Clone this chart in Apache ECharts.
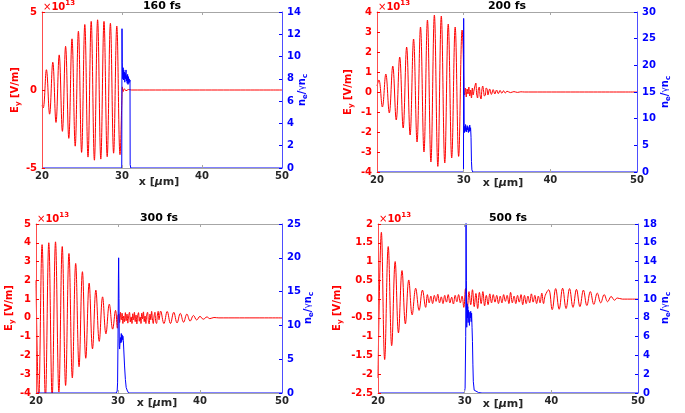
<!DOCTYPE html>
<html><head><meta charset="utf-8">
<script src="https://cdn.jsdelivr.net/npm/echarts@6/dist/echarts.min.js"></script>
<style>html,body{margin:0;padding:0;background:#fff}#c{width:685px;height:413px}</style>
</head><body><div id="c"></div><script>
// ---------- DATA ----------
const titles = ['160 fs', '200 fs', '300 fs', '500 fs'];
const xTicks = [20, 30, 40, 50];
const eyTicks160 = [-5, 0, 5];
const neTicks160 = [0, 2, 4, 6, 8, 10, 12, 14];
const eyTicks200 = [-4, -3, -2, -1, 0, 1, 2, 3, 4];
const neTicks200 = [0, 5, 10, 15, 20, 25, 30];
const eyTicks300 = [-4, -3, -2, -1, 0, 1, 2, 3, 4, 5];
const neTicks300 = [0, 5, 10, 15, 20, 25];
const eyTicks500 = [-2.5, -2, -1.5, -1, -0.5, 0, 0.5, 1, 1.5, 2];
const neTicks500 = [0, 2, 4, 6, 8, 10, 12, 14, 16, 18];

// E_y in units of 1e13 V/m, x in micrometres
const ey160 = [[20,-1.0],[20.15,-1.15],[20.55,1.3],[20.95,-1.55],[21.35,1.78],[21.75,-2.08],[22.15,2.25],[22.55,-2.65],[22.95,2.8],[23.35,-3.1],[23.75,3.28],[24.15,-3.6],[24.55,3.77],[24.95,-4.0],[25.35,4.2],[25.75,-4.3],[26.15,4.4],[26.55,-4.5],[26.95,4.5],[27.35,-4.43],[27.75,4.4],[28.15,-4.28],[28.55,4.28],[28.95,-4.05],[29.35,4.1],[29.75,-4.15],[30.0,-0.4],[30.05,0.2],[30.15,-0.1],[30.3,0.08],[30.5,-0.05],[30.8,0.03],[31.2,0],[50,0]];
const ne160 = [[20,0],[29.97,0],[30.0,12.5],[30.03,9.5],[30.06,8.6],[30.1,8.0],[30.14,9.0],[30.18,7.9],[30.22,8.8],[30.26,8.1],[30.3,8.6],[30.35,7.7],[30.4,8.5],[30.45,8.0],[30.5,8.8],[30.55,7.8],[30.6,8.3],[30.65,7.6],[30.7,8.4],[30.75,7.5],[30.8,8.2],[30.85,7.6],[30.9,8.0],[30.95,7.7],[31.0,7.9],[31.02,0.3],[31.1,0],[50,0]];

const ey200 = [[20,0.3],[20.22,0.6],[20.62,-0.75],[21.02,0.9],[21.42,-1.05],[21.82,1.3],[22.22,-1.4],[22.62,1.75],[23.02,-1.8],[23.42,2.25],[23.82,-2.15],[24.22,2.65],[24.62,-2.5],[25.02,3.25],[25.42,-3.0],[25.82,3.6],[26.22,-3.5],[26.62,3.85],[27.02,-3.72],[27.42,3.8],[27.82,-3.55],[28.22,3.4],[28.62,-3.3],[29.02,3.25],[29.42,-3.22],[29.82,3.1],[29.95,2.0],[30.02,0.1],
 [30.1,-0.15],[30.2,0.2],[30.3,-0.25],[30.4,0.15],[30.5,-0.1],[30.6,0.25],[30.7,-0.2],[30.8,0.1],[30.9,-0.3],[31.0,0.2],[31.1,-0.15],[31.2,0.1],[31.3,0.3],[31.4,0.45],[31.5,-0.1],[31.6,-0.3],[31.7,0.15],[31.8,0.25],[31.9,-0.2],[32.0,-0.35],[32.1,0.1],[32.2,0.3],[32.3,0.05],[32.4,-0.2],[32.5,-0.15],[32.6,0.2],[32.7,0.15],[32.8,-0.15],[33.0,0.15],[33.2,-0.12],[33.4,0.12],[33.6,-0.1],[33.8,0.1],[34.0,-0.08],[34.2,0.08],[34.4,-0.06],[34.6,0.06],[34.8,-0.05],[35.0,0.04],[35.4,-0.03],[35.8,0.02],[36.2,-0.02],[36.6,0.01],[37.0,0],[50,0]];
const ne200 = [[20,0],[29.98,0],[30.0,28.8],[30.02,22],[30.04,16],[30.06,8.5],[30.1,7.4],[30.14,8.6],[30.18,7.8],[30.22,8.9],[30.26,7.6],[30.3,8.3],[30.35,7.5],[30.4,8.7],[30.45,7.9],[30.5,8.5],[30.55,7.4],[30.6,8.2],[30.65,7.6],[30.7,8.8],[30.75,7.7],[30.8,8.3],[30.85,6.5],[30.9,2.0],[30.95,0.4],[31.05,0],[50,0]];

const ey300 = [[20,2.0],[20.33,-4.3],[20.74,3.9],[21.15,-4.3],[21.56,4.0],[21.97,-4.2],[22.38,4.05],[22.79,-3.95],[23.2,3.8],[23.61,-3.6],[24.02,3.43],[24.43,-3.2],[24.84,2.9],[25.25,-2.6],[25.66,2.46],[26.07,-2.15],[26.48,1.85],[26.89,-1.65],[27.3,1.48],[27.71,-1.25],[28.12,1.12],[28.53,-0.85],[28.94,0.73],[29.35,-0.6],[29.7,0.4],[29.92,-0.55],[30.0,0.15],
 [30.1,0.2],[30.2,-0.25],[30.3,0.3],[30.4,-0.1],[30.5,0.25],[30.6,-0.3],[30.7,0.1],[30.8,-0.2],[30.9,0.28],[31.0,-0.15],[31.1,0.2],[31.2,-0.28],[31.3,0.12],[31.4,0.3],[31.5,-0.22],[31.6,0.05],[31.7,-0.3],[31.8,0.22],[31.9,-0.1],[32.0,0.3],[32.1,-0.2],[32.2,0.15],[32.3,-0.32],[32.4,0.1],[32.5,0.28],[32.6,-0.18],[32.7,0.05],[32.8,-0.3],[32.9,0.25],[33.0,-0.05],[33.1,0.32],[33.2,-0.2],[33.3,0.1],[33.4,-0.3],[33.5,0.15],[33.6,0.3],[33.7,-0.15],[33.8,-0.32],[33.9,0.2],[34.0,-0.1],[34.1,0.35],[34.2,-0.05],[34.3,-0.3],[34.4,0.1],[34.5,0.3],[34.6,-0.2],[34.7,-0.3],[34.8,0.15],[34.9,0.35],[35.0,-0.1],
 [35.2,0.36],[35.6,-0.3],[36.0,0.34],[36.4,-0.3],[36.8,0.3],[37.2,-0.27],[37.6,0.24],[38.0,-0.23],[38.4,0.2],[38.8,-0.17],[39.2,0.13],[39.6,-0.11],[40.0,0.08],[40.4,-0.07],[40.85,0.05],[41.2,-0.04],[41.7,0.02],[42.3,0],[50,0]];
const ne300 = [[20,0],[29.8,0],[29.9,0.3],[29.95,1.5],[30.0,8],[30.05,17],[30.08,20],[30.12,14],[30.16,7],[30.2,6.5],[30.25,7.5],[30.3,8.2],[30.35,7.4],[30.4,8.8],[30.45,7.6],[30.5,8.6],[30.55,7.9],[30.6,8.4],[30.65,7.8],[30.7,6.5],[30.8,4],[30.9,2],[31.0,0.8],[31.15,0.3],[31.3,0],[50,0]];

const ey500 = [[20,-2.1],[20.39,1.78],[20.77,-1.61],[21.18,1.4],[21.58,-1.24],[21.98,1.0],[22.36,-0.9],[22.77,0.76],[23.16,-0.66],[23.55,0.51],[23.94,-0.42],[24.35,0.29],[24.74,-0.3],[25.13,0.24],[25.5,-0.22],
 [25.7,0.12],[25.9,-0.1],[26.1,0.08],[26.3,-0.12],[26.5,0.1],[26.7,-0.06],[26.9,0.13],[27.1,-0.1],[27.3,0.06],[27.5,-0.12],[27.7,0.1],[27.9,-0.08],[28.1,0.12],[28.3,-0.1],[28.5,0.05],[28.7,-0.13],[28.9,0.1],[29.1,-0.07],[29.3,0.12],[29.5,-0.1],[29.7,0.08],[29.9,-0.22],[30.1,0.28],[30.3,-0.28],[30.5,0.2],[30.7,-0.15],[30.9,0.25],[31.1,-0.2],[31.3,0.15],[31.5,-0.25],[31.7,0.18],[31.9,-0.12],[32.1,0.2],[32.3,-0.18],[32.5,0.1],[32.7,-0.15],[32.9,0.14],[33.1,-0.1],[33.3,0.12],[33.5,-0.08],[33.7,0.1],[33.9,-0.12],[34.1,0.08],[34.3,-0.1],[34.5,0.12],[34.7,-0.06],[34.9,0.1],[35.1,-0.12],[35.3,0.18],[35.5,-0.1],[35.7,0.08],[35.9,-0.12],[36.1,0.1],[36.3,-0.08],[36.5,0.12],[36.7,-0.15],[36.9,0.1],[37.1,-0.12],[37.3,0.08],[37.5,-0.1],[37.7,0.14],[37.9,-0.08],[38.1,0.1],[38.3,-0.12],[38.5,0.08],[38.7,-0.1],[38.9,0.16],[39.1,-0.12],[39.3,0.1],
 [39.7,0.25],[40.1,-0.28],[40.5,0.28],[40.9,-0.27],[41.3,0.29],[41.7,-0.25],[42.1,0.28],[42.5,-0.22],[42.9,0.26],[43.3,-0.2],[43.7,0.24],[44.1,-0.17],[44.5,0.2],[44.9,-0.14],[45.3,0.16],[45.7,-0.1],[46.1,0.12],[46.5,-0.07],[46.9,0.07],[47.3,-0.03],[47.6,0.03],[48.2,0],[50,0]];
const ne500 = [[20,0],[29.95,0],[30.05,0.5],[30.12,6],[30.16,18.5],[30.2,12],[30.24,7.0],[30.28,9.5],[30.32,8.0],[30.36,9.2],[30.4,7.5],[30.45,8.8],[30.5,8.2],[30.55,7.2],[30.6,8.6],[30.65,8.0],[30.7,8.7],[30.75,7.6],[30.8,8.5],[30.85,7.0],[30.9,5.5],[30.95,3],[31.0,1.2],[31.1,0.3],[31.3,0.15],[31.6,0.05],[32,0],[50,0]];

// ---------- LAYOUT ----------
const FONT = 'DejaVu Sans';
const panels = [
  {ey: ey160, ne: ne160, eyT: eyTicks160, neT: neTicks160, grid: {left: 42, top: 12, width: 240, height: 156}, lName: [15, 90], rName: [302, 90], xName: [159, 182.5]},
  {ey: ey200, ne: ne200, eyT: eyTicks200, neT: neTicks200, grid: {left: 377, top: 12, width: 260, height: 160}, lName: [348, 92], rName: [665, 92], xName: [503, 183.5]},
  {ey: ey300, ne: ne300, eyT: eyTicks300, neT: neTicks300, grid: {left: 36, top: 224, width: 246, height: 169}, lName: [9, 308], rName: [308, 308], xName: [157, 403]},
  {ey: ey500, ne: ne500, eyT: eyTicks500, neT: neTicks500, grid: {left: 378, top: 224, width: 260, height: 169}, lName: [337, 308], rName: [665, 308], xName: [503, 404]}
];

const RED = '#ff0000', BLUE = '#0000ff', GRAY = '#a6a6a6';
const rich = {
  m: {fontFamily: FONT, fontWeight: 'bold', fontSize: 10, lineHeight: 14},
  t: {fontFamily: FONT, fontWeight: 'bold', fontSize: 11, lineHeight: 14},
  s: {fontFamily: FONT, fontWeight: 'bold', fontSize: 7, lineHeight: 8, verticalAlign: 'bottom'},
  p: {fontFamily: FONT, fontWeight: 'bold', fontSize: 7, lineHeight: 8, verticalAlign: 'top'},
  g: {fontFamily: FONT, fontWeight: 'normal', fontSize: 9, lineHeight: 14},
  n: {fontFamily: FONT, fontWeight: 'bold', fontSize: 11, lineHeight: 14},
  i: {fontFamily: FONT, fontWeight: 'bold', fontStyle: 'italic', fontSize: 11, lineHeight: 14},
  x: {fontFamily: FONT, fontWeight: 'normal', fontSize: 10, lineHeight: 14}
};

function txt(x, y, text, fill, rot, align) {
  return {type: 'text', x: x, y: y, rotation: rot || 0, z: 100,
    style: {text: text, rich: rich, fill: fill, align: align || 'center', verticalAlign: 'middle',
      textAlign: align || 'center', textVerticalAlign: 'middle', fontFamily: FONT, fontWeight: 'bold', fontSize: 10}};
}

const grid = [], xAxis = [], yAxis = [], series = [], graphic = [];
panels.forEach((p, i) => {
  grid.push(Object.assign({containLabel: false, show: false}, p.grid));
  const xCommon = {type: 'value', gridIndex: i, z: 10, min: xTicks[0], max: xTicks[xTicks.length - 1], interval: xTicks[1] - xTicks[0],
    splitLine: {show: false}, axisLine: {onZero: false, lineStyle: {color: GRAY, width: 1}},
    axisTick: {inside: true, length: 3, lineStyle: {color: GRAY}}};
  xAxis.push(Object.assign({}, xCommon, {position: 'bottom',
    axisLabel: {color: '#262626', fontSize: 10, fontFamily: FONT, fontWeight: 'bold', margin: 3}}));
  xAxis.push(Object.assign({}, xCommon, {position: 'top', axisLabel: {show: false}}));
  yAxis.push({type: 'value', gridIndex: i, z: 11, position: 'left', min: p.eyT[0], max: p.eyT[p.eyT.length - 1], interval: p.eyT[1] - p.eyT[0],
    splitLine: {show: false}, axisLine: {show: true, onZero: false, lineStyle: {color: '#ff4d4d'}},
    axisTick: {show: true, inside: true, length: 3, lineStyle: {color: RED}},
    axisLabel: {color: RED, fontSize: 10, fontFamily: FONT, fontWeight: 'bold', margin: 5}});
  yAxis.push({type: 'value', gridIndex: i, z: 11, position: 'right', min: p.neT[0], max: p.neT[p.neT.length - 1], interval: p.neT[1] - p.neT[0],
    splitLine: {show: false}, axisLine: {show: true, onZero: false, lineStyle: {color: '#4d4dff'}},
    axisTick: {show: true, inside: true, length: 3, lineStyle: {color: BLUE}},
    axisLabel: {color: BLUE, fontSize: 10, fontFamily: FONT, fontWeight: 'bold', margin: 5}});
  series.push({type: 'line', xAxisIndex: 2 * i, yAxisIndex: 2 * i, data: p.ey, showSymbol: false, smooth: 0.4,
    clip: true, lineStyle: {color: RED, width: 1}, itemStyle: {color: RED}, z: 2, silent: true});
  series.push({type: 'line', xAxisIndex: 2 * i, yAxisIndex: 2 * i + 1, data: p.ne, showSymbol: false,
    clip: true, lineStyle: {color: BLUE, width: 1}, itemStyle: {color: BLUE}, z: 3, silent: true});
  const g = p.grid;
  graphic.push(txt(g.left + g.width / 2, g.top - 6, '{t|' + titles[i] + '}', '#000'));
  graphic.push(txt(g.left + 1, g.top - 5, '{x|×}{m|10}{p|13}', RED, 0, 'left'));
  graphic.push(txt(p.lName[0], p.lName[1], '{m|E}{s|y}{m| [V/m]}', RED, Math.PI / 2));
  graphic.push(txt(p.rName[0], p.rName[1], '{m|n}{s|e}{m|/}{g|γ}{m|n}{s|c}', BLUE, Math.PI / 2));
  graphic.push(txt(p.xName[0], p.xName[1], '{n|x [}{i|μ}{n|m]}', '#262626'));
});

const chart = echarts.init(document.getElementById('c'), null, {renderer: 'canvas'});
chart.setOption({animation: false, backgroundColor: '#fff', grid, xAxis, yAxis, series, graphic});
</script></body></html>
